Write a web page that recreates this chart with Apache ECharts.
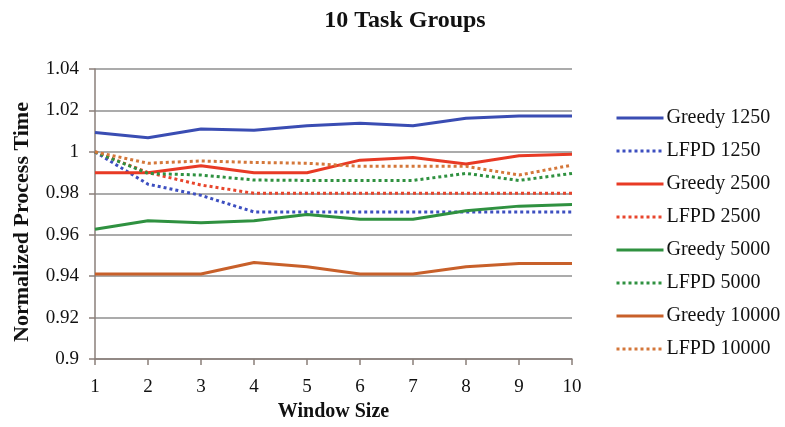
<!DOCTYPE html>
<html>
<head>
<meta charset="utf-8">
<script src="https://cdn.jsdelivr.net/npm/echarts@6/dist/echarts.min.js"></script>
<style>
  html, body { margin: 0; padding: 0; background: #fff; }
  #chart { width: 785px; height: 427px; }
</style>
</head>
<body>
<div id="chart"></div>
<script>
// Window sizes on the x axis
const windowSizes = ['1', '2', '3', '4', '5', '6', '7', '8', '9', '10'];

// Normalized process time per window size
const greedy1250  = [1.0094, 1.0068, 1.0110, 1.0104, 1.0126, 1.0138, 1.0126, 1.0162, 1.0173, 1.0173];
const lfpd1250    = [1.0000, 0.9844, 0.9790, 0.9710, 0.9710, 0.9710, 0.9710, 0.9710, 0.9710, 0.9710];
const greedy2500  = [0.9899, 0.9899, 0.9933, 0.9899, 0.9899, 0.9960, 0.9973, 0.9941, 0.9981, 0.9989];
const lfpd2500    = [1.0000, 0.9900, 0.9840, 0.9800, 0.9800, 0.9800, 0.9800, 0.9800, 0.9800, 0.9800];
const greedy5000  = [0.9626, 0.9667, 0.9658, 0.9667, 0.9698, 0.9675, 0.9675, 0.9716, 0.9738, 0.9746];
const lfpd5000    = [1.0000, 0.9896, 0.9888, 0.9864, 0.9862, 0.9862, 0.9862, 0.9896, 0.9862, 0.9896];
const greedy10000 = [0.9410, 0.9410, 0.9410, 0.9466, 0.9445, 0.9410, 0.9410, 0.9445, 0.9461, 0.9461];
const lfpd10000   = [1.0000, 0.9945, 0.9956, 0.9949, 0.9945, 0.9930, 0.9930, 0.9930, 0.9888, 0.9936];

const FONT = '"Liberation Serif", "Times New Roman", serif';

function line(name, data, color, dotted) {
  return {
    name: name,
    type: 'line',
    data: data,
    symbol: 'none',
    smooth: false,
    lineStyle: { color: color, width: 3, type: dotted ? 'dotted' : 'solid' },
    itemStyle: { color: color }
  };
}

const chart = echarts.init(document.getElementById('chart'), null, { renderer: 'canvas' });
chart.setOption({
  animation: false,
  backgroundColor: '#ffffff',
  title: {
    text: '10 Task Groups',
    left: 400, top: 4, textAlign: 'center',
    textStyle: { fontFamily: FONT, fontWeight: 'bold', fontSize: 24, color: '#111' }
  },
  grid: { left: 95, right: 213, top: 69, bottom: 68 },
  legend: {
    orient: 'vertical',
    left: 610, top: 103,
    itemWidth: 47, itemHeight: 14, itemGap: 13,
    itemStyle: { opacity: 0 },
    lineStyle: { width: 3 },
    textStyle: { fontFamily: FONT, fontSize: 20, color: '#111', padding: [0, 0, 0, -2] },
    data: ['Greedy 1250', 'LFPD 1250', 'Greedy 2500', 'LFPD 2500',
           'Greedy 5000', 'LFPD 5000', 'Greedy 10000', 'LFPD 10000']
  },
  xAxis: {
    type: 'category',
    data: windowSizes,
    boundaryGap: false,
    name: 'Window Size',
    nameLocation: 'middle',
    nameGap: 41,
    nameTextStyle: { fontFamily: FONT, fontWeight: 'bold', fontSize: 20, color: '#111' },
    axisLine: { lineStyle: { color: '#8a7f7a', width: 1.5 } },
    axisTick: { show: true, length: 6, lineStyle: { color: '#8a7f7a', width: 1.5 } },
    axisLabel: { fontFamily: FONT, fontSize: 19, color: '#111', margin: 19 },
    splitLine: { show: false }
  },
  yAxis: {
    type: 'value',
    min: 0.9, max: 1.04, interval: 0.02,
    name: 'Normalized Process Time',
    nameLocation: 'middle',
    nameGap: 62,
    nameRotate: 90,
    nameTextStyle: {
      fontFamily: FONT, fontWeight: 'bold', fontSize: 22, color: '#111',
      padding: [0, 16, 0, 0]
    },
    axisLine: { show: true, lineStyle: { color: '#8a7f7a', width: 1.5 } },
    axisTick: { show: true, length: 6, lineStyle: { color: '#8a7f7a', width: 1.5 } },
    axisLabel: {
      fontFamily: FONT, fontSize: 19, color: '#111', margin: 16,
      formatter: v => String(parseFloat(v.toFixed(2)))
    },
    splitLine: { show: true, lineStyle: { color: '#8f8f8f', width: 1.5 } }
  },
  series: [
    line('Greedy 1250',  greedy1250,  '#3a4db3', false),
    line('LFPD 1250',    lfpd1250,    '#3d4fc0', true),
    line('Greedy 2500',  greedy2500,  '#e83a25', false),
    line('LFPD 2500',    lfpd2500,    '#e8452c', true),
    line('Greedy 5000',  greedy5000,  '#2f9140', false),
    line('LFPD 5000',    lfpd5000,    '#2f9140', true),
    line('Greedy 10000', greedy10000, '#c8602a', false),
    line('LFPD 10000',   lfpd10000,   '#d4773a', true)
  ]
});
</script>
</body>
</html>
